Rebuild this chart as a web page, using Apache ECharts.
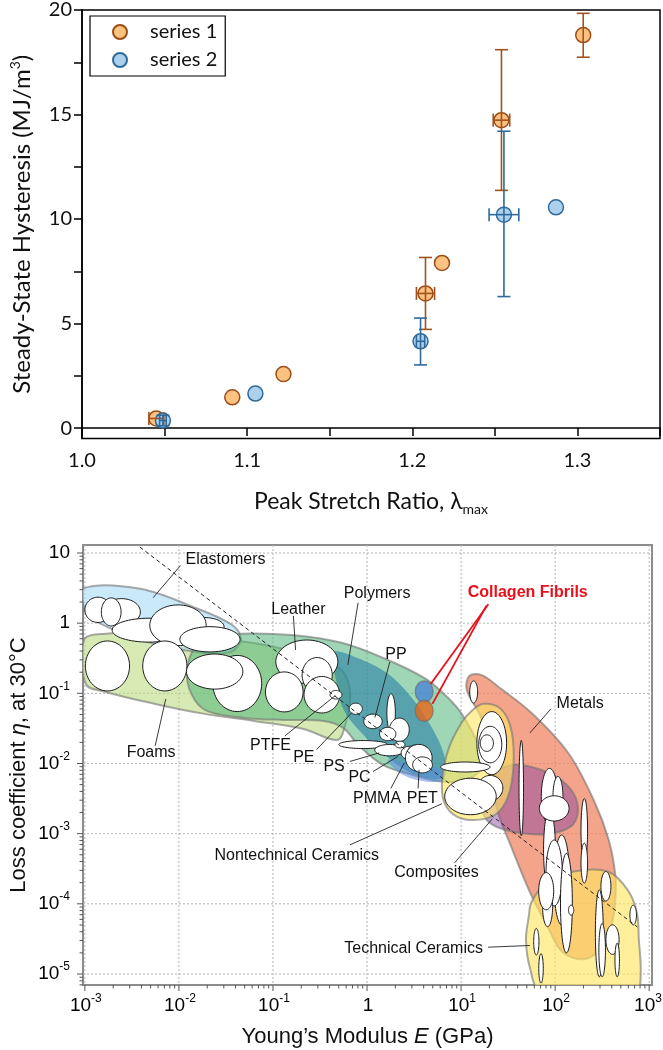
<!DOCTYPE html>
<html><head><meta charset="utf-8">
<script src="https://cdn.jsdelivr.net/npm/echarts@6/dist/echarts.min.js"></script>
<style>html,body{margin:0;padding:0;background:#fff}#c{width:663px;height:1050px}</style>
</head><body><div id="c"></div>
<script>
// ================= TOP CHART DATA =================
const s1X = [1.045, 1.091, 1.122, 1.208, 1.218, 1.254, 1.3035];
const s1Y = [0.46, 1.47, 2.58, 6.44, 7.90, 14.73, 18.80];
const s1XErr = [0.0045, 0, 0, 0.0055, 0, 0.005, 0];
const s1YErrMinus = [0, 0, 0, 1.72, 0, 3.36, 1.06];
const s1YErrPlus = [0, 0, 0, 1.72, 0, 3.37, 1.04];

const s2X = [1.049, 1.105, 1.205, 1.2555, 1.287];
const s2Y = [0.36, 1.65, 4.15, 10.21, 10.56];
const s2XErr = [0.002, 0, 0.0025, 0.009, 0];
const s2YErrMinus = [0.25, 0, 1.13, 3.92, 0];
const s2YErrPlus = [0.25, 0, 1.11, 3.99, 0];

const topYTicks = [0, 2.5, 5, 7.5, 10, 12.5, 15, 17.5, 20];
const topYLabels = [0, 5, 10, 15, 20];

// ================= BOTTOM CHART DATA (log10 space) =================
const xDecades = [-3, -2, -1, 0, 1, 2, 3];
const xTickLabels = ['10^-3', '10^-2', '10^-1', '1', '10^1', '10^2', '10^3'];
const yDecades = [-5, -4, -3, -2, -1, 0, 1];
const yTickLabels = ['10^-5', '10^-4', '10^-3', '10^-2', '10^-1', '1', '10'];
const minorMultipliers = [2, 3, 4, 5, 6, 7, 8, 9];

const elastomersEnv = [[-3.01,0.50],[-2.41,0.49],[-1.83,0.22],[-1.43,-0.03],[-1.34,-0.24],[-1.47,-0.42],[-1.96,-0.38],[-2.49,-0.20],[-2.94,0.07],[-3.01,0.22]];
const foamsEnv = [[-3.01,-0.24],[-2.78,-0.15],[-2.25,-0.14],[-1.73,-0.20],[-1.09,-0.31],[-0.463,-0.524],[-0.253,-0.695],[-0.179,-1.023],[-0.232,-1.45],[-0.316,-1.664],[-0.674,-1.507],[-1.2,-1.393],[-1.726,-1.293],[-2.253,-1.151],[-2.779,-0.98],[-2.99,-0.867]];
const polymersEnv = [[-1.83,-0.35],[-1.61,-0.20],[-1.34,-0.15],[-0.80,-0.17],[-0.27,-0.28],[0.18,-0.50],[0.62,-0.79],[0.85,-1.05],[1.01,-1.30],[1.20,-1.78],[1.22,-2.06],[1.06,-2.23],[0.80,-2.26],[0.48,-2.16],[0.168,-2.02],[-0.095,-1.735],[-0.253,-1.493],[-0.463,-1.393],[-0.884,-1.379],[-1.305,-1.35],[-1.674,-1.265],[-1.832,-1.094],[-1.916,-0.738]];
const tealEnv = [[-0.36,-0.42],[-0.15,-0.47],[0.20,-0.70],[0.48,-1.07],[0.69,-1.49],[0.82,-1.88],[0.83,-2.18],[0.69,-2.22],[0.43,-2.11],[0.20,-1.89],[-0.04,-1.59],[-0.25,-1.23],[-0.33,-0.81]];
const blueTipEnv = [[0.22,-1.95],[0.48,-2.02],[0.80,-2.09],[0.82,-2.23],[0.64,-2.26],[0.38,-2.16]];
const metalsEnv = [[1.09,-0.75],[1.22,-0.74],[1.40,-0.91],[1.75,-1.28],[2.14,-1.85],[2.41,-2.52],[2.57,-3.09],[2.64,-3.59],[2.64,-3.94],[2.60,-4.30],[2.48,-4.64],[2.31,-4.79],[2.08,-4.69],[1.91,-4.30],[1.73,-3.83],[1.51,-3.11],[1.40,-2.73],[1.29,-2.09],[1.22,-1.38],[1.06,-0.95]];
const compositesEnv = [[1.22,-2.52],[1.35,-2.16],[1.54,-2.02],[1.85,-2.09],[2.12,-2.30],[2.24,-2.59],[2.19,-2.87],[1.96,-3.00],[1.69,-3.00],[1.43,-2.93],[1.27,-2.80]];
const nontechEnv = [[1.24,-1.15],[1.41,-1.21],[1.52,-1.45],[1.56,-1.88],[1.52,-2.38],[1.40,-2.69],[1.20,-2.80],[0.96,-2.76],[0.82,-2.55],[0.80,-2.21],[0.87,-1.78],[1.01,-1.41],[1.12,-1.24]];
const techCeramicsEnv = [[1.75,-3.97],[1.93,-3.66],[2.20,-3.54],[2.56,-3.54],[2.77,-3.80],[2.87,-4.13],[2.89,-4.51],[2.91,-4.98],[2.87,-5.25],[2.62,-5.25],[1.85,-5.25],[1.73,-4.90],[1.69,-4.51],[1.72,-4.18]];

// [logE centre, log eta centre, half-width (decades), half-height (decades)]
const materialEllipses = [
 [-2.61,0.16,0.20,0.19],[-2.86,0.19,0.14,0.18],[-2.72,0.16,0.105,0.20],[-2.32,-0.10,0.39,0.17],
 [-1.73,-0.05,0.21,0.13],[-2.01,-0.03,0.30,0.29],[-1.67,-0.23,0.32,0.18],
 [-2.76,-0.61,0.235,0.356],[-2.15,-0.61,0.235,0.356],[-1.38,-0.86,0.26,0.40],[-1.62,-0.69,0.30,0.25],
 [-0.64,-0.55,0.33,0.31],[-0.88,-0.98,0.20,0.285],[-0.53,-0.74,0.16,0.25],[-0.48,-1.02,0.19,0.26],
 [-0.33,-1.02,0.063,0.061],[-0.12,-1.22,0.07,0.08],
 [0.063,-1.40,0.098,0.104],[0.256,-1.28,0.045,0.275],[0.344,-1.52,0.105,0.167],[0.22,-1.58,0.087,0.095],
 [-0.04,-1.73,0.26,0.057],[0.24,-1.81,0.158,0.081],[0.35,-1.73,0.053,0.048],[0.45,-1.85,0.087,0.095],
 [0.505,-1.81,0.066,0.071],[0.55,-1.92,0.142,0.192],[0.59,-2.02,0.105,0.114],
 [1.134,-0.98,0.042,0.157],[1.326,-1.71,0.158,0.45],[1.31,-1.73,0.123,0.26],[1.274,-1.71,0.07,0.118],
 [1.045,-2.05,0.263,0.071],[1.31,-2.35,0.134,0.18],[1.10,-2.47,0.274,0.26],[1.64,-2.35,0.024,0.68],
 [1.94,-2.47,0.087,0.40],[2.03,-2.47,0.053,0.285],[1.94,-3.23,0.063,0.57],[2.07,-3.66,0.084,0.64],
 [1.99,-2.64,0.158,0.18],[2.31,-2.95,0.035,0.45],[1.99,-3.56,0.087,0.47],[1.92,-4.04,0.053,0.285],
 [1.905,-3.82,0.08,0.265],[2.12,-3.99,0.063,0.71],[2.17,-4.09,0.028,0.071],[2.31,-3.42,0.035,0.285],
 [2.47,-4.42,0.042,0.62],[2.50,-4.66,0.035,0.38],[2.54,-3.75,0.053,0.21],[2.61,-4.51,0.07,0.21],
 [2.66,-4.80,0.024,0.24],[2.83,-4.16,0.035,0.14],[1.80,-4.54,0.028,0.19],[1.85,-4.92,0.024,0.21]
];

const collagenE = [4.05, 4.05];       // GPa
const collagenEta = [0.106, 0.0563];

const guideLine = [[-2.416, 1.085], [2.874, -4.33]];

const regionLabels = [
 ['Elastomers', -1.505, 0.90], ['Leather', -0.73, 0.195], ['Polymers', 0.107, 0.42], ['PP', 0.307, -0.453],
 ['Metals', 2.266, -1.151], ['Foams', -2.296, -1.849], ['PTFE', -1.027, -1.745], ['PE', -0.672, -1.913],
 ['PS', -0.35, -2.04], ['PC', -0.08, -2.197], ['PMMA', 0.107, -2.50], ['PET', 0.588, -2.50],
 ['Nontechnical Ceramics', -0.747, -3.316], ['Composites', 0.739, -3.558], ['Technical Ceramics', 0.495, -4.632]
];
const collagenLabel = ['Collagen Fibrils', 1.709, 0.436];
const calloutLines = [
 [-1.984,0.82,-2.274,0.363],[-0.783,0.103,-0.76,-0.382],[-0.095,0.29,-0.204,-0.595],[0.242,-0.553,0.084,-1.345],
 [1.955,-1.222,1.732,-1.564],[-2.253,-1.749,-2.14,-1.08],[-0.874,-1.607,-0.337,-1.033],[-0.537,-1.802,-0.16,-1.274],
 [-0.182,-1.971,0.129,-1.849],[0.063,-2.115,0.329,-1.899],[0.253,-2.356,0.397,-1.991],[0.543,-2.356,0.553,-2.091],
 [-0.182,-3.16,0.797,-2.573],[0.931,-3.416,1.332,-2.789],[1.287,-4.618,1.732,-4.594]
];
const collagenLines = [[1.29,0.27,0.677,-0.866],[1.27,0.25,0.695,-1.151]];

// ================= BUILD =================
const chart = echarts.init(document.getElementById('c'), null, {renderer: 'canvas'});
const topFont = 'Lato';
const botFont = '"Liberation Sans", Arial, sans-serif';

function errRender(color) {
  return function (params, api) {
    const x = api.value(0), y = api.value(1), xe = api.value(2), ym = api.value(3), yp = api.value(4);
    const st = {stroke: color, lineWidth: 1.6, fill: 'none'};
    const ch = [];
    const cap = 6.5;
    if (ym > 0 || yp > 0) {
      const a = api.coord([x, y + yp]), b = api.coord([x, y - ym]);
      ch.push({type: 'line', shape: {x1: a[0], y1: a[1], x2: b[0], y2: b[1]}, style: st});
      ch.push({type: 'line', shape: {x1: a[0] - cap, y1: a[1], x2: a[0] + cap, y2: a[1]}, style: st});
      ch.push({type: 'line', shape: {x1: b[0] - cap, y1: b[1], x2: b[0] + cap, y2: b[1]}, style: st});
    }
    if (xe > 0) {
      const a = api.coord([x - xe, y]), b = api.coord([x + xe, y]);
      ch.push({type: 'line', shape: {x1: a[0], y1: a[1], x2: b[0], y2: b[1]}, style: st});
      ch.push({type: 'line', shape: {x1: a[0], y1: a[1] - cap, x2: a[0], y2: a[1] + cap}, style: st});
      ch.push({type: 'line', shape: {x1: b[0], y1: b[1] - cap, x2: b[0], y2: b[1] + cap}, style: st});
    }
    return {type: 'group', children: ch};
  };
}

const envList = [foamsEnv, elastomersEnv, polymersEnv, tealEnv, blueTipEnv, metalsEnv, compositesEnv, nontechEnv, techCeramicsEnv];
const envFills = ['rgba(190,220,130,0.6)', 'rgba(170,220,245,0.62)', 'rgba(80,180,120,0.55)', 'rgba(30,120,165,0.55)',
  'rgba(90,140,225,0.55)', 'rgba(238,125,90,0.7)', 'rgba(140,70,160,0.48)', 'rgba(255,230,100,0.62)', 'rgba(255,230,100,0.65)'];
const envStroke = [true, true, true, false, false, true, true, true, true];

function supRich(label) {
  const parts = label.split('^');
  if (parts.length === 1) return '{b|' + parts[0] + '}';
  return '{b|' + parts[0] + '}{s|' + parts[1] + '}';
}
const supStyles = {
  b: {fontSize: 19, fontFamily: botFont, color: '#111', lineHeight: 26},
  s: {fontSize: 12, fontFamily: botFont, color: '#111', verticalAlign: 'top', lineHeight: 12}
};

const option = {
  backgroundColor: '#fff',
  animation: false,
  legend: {
    data: ['series 1', 'series 2'], orient: 'vertical', left: 90, top: 16,
    itemWidth: 14, itemHeight: 14, itemGap: 8, padding: [6, 8, 6, 22],
    borderColor: '#000', borderWidth: 1.2, backgroundColor: '#fff', icon: 'circle',
    textStyle: {fontFamily: topFont, fontSize: 20, color: '#111', padding: [0, 0, 0, 18]}
  },
  grid: [
    {left: 73, top: 7, width: 589, height: 431.5, show: true, borderColor: '#000', borderWidth: 1.5, containLabel: false},
    {left: 77, top: 545, width: 575, height: 440, show: true, borderColor: '#8c8c8c', borderWidth: 2, backgroundColor: '#fff', containLabel: false}
  ],
  xAxis: [
    {gridIndex: 0, type: 'value', min: 1.0, max: 1.35, interval: 0.05,
     axisLine: {lineStyle: {color: '#000', width: 1.5}},
     axisTick: {show: true, inside: false, length: 8, lineStyle: {color: '#000', width: 1.5}},
     splitLine: {show: false},
     axisLabel: {margin: 12, fontFamily: topFont, fontSize: 20, color: '#111',
       formatter: v => (Math.round(v * 100) % 10 === 0 ? v.toFixed(1) : '')},
     name: '{a|Peak Stretch Ratio, λ}{sub|max}', nameLocation: 'middle', nameGap: 48,
     nameTextStyle: {rich: {a: {fontFamily: topFont, fontSize: 23, color: '#111'},
                            sub: {fontFamily: topFont, fontSize: 14, color: '#111', verticalAlign: 'bottom', padding: [16, 0, 0, 0]}}}
    },
    {gridIndex: 1, type: 'value', min: -3.02, max: 3.03,
     axisLine: {show: false}, axisTick: {show: false}, axisLabel: {show: false}, splitLine: {show: false},
     name: '{a|Young’s Modulus }{i|E}{a| (GPa)}', nameLocation: 'middle', nameGap: 41,
     nameTextStyle: {rich: {a: {fontFamily: botFont, fontSize: 22, color: '#111'},
                            i: {fontFamily: botFont, fontSize: 22, color: '#111', fontStyle: 'italic'}}}
    }
  ],
  yAxis: [
    {gridIndex: 0, type: 'value', min: -0.5, max: 20,
     axisLine: {show: true, lineStyle: {color: '#000', width: 1.5}},
     axisTick: {show: true, length: 8, customValues: topYTicks, lineStyle: {color: '#000', width: 1.5}},
     axisLabel: {customValues: topYLabels, margin: 10, fontFamily: topFont, fontSize: 20, color: '#111'},
     splitLine: {show: false},
     name: '{a|Steady-State Hysteresis (MJ/m}{sup|3}{a|)}', nameLocation: 'middle', nameGap: 46,
     nameTextStyle: {rich: {a: {fontFamily: topFont, fontSize: 24, color: '#111', lineHeight: 28},
                            sup: {fontFamily: topFont, fontSize: 14, color: '#111', verticalAlign: 'top'}}}
    },
    {gridIndex: 1, type: 'value', min: -5.157, max: 1.114,
     axisLine: {show: false}, axisTick: {show: false}, axisLabel: {show: false}, splitLine: {show: false},
     name: '{a|Loss coefficient }{i|η}{a|, at 30°C}', nameLocation: 'middle', nameGap: 53,
     nameTextStyle: {rich: {a: {fontFamily: botFont, fontSize: 22, color: '#111'},
                            i: {fontFamily: botFont, fontSize: 22, color: '#111', fontStyle: 'italic'}}}
    }
  ],
  series: [
    // ---- top chart ----
    {name: 'series 1', type: 'scatter', xAxisIndex: 0, yAxisIndex: 0, symbol: 'circle', symbolSize: 15, z: 3,
     itemStyle: {color: '#FDC27F', borderColor: '#9C4D17', borderWidth: 1.5, opacity: 1},
     data: s1X.map((x, i) => [x, s1Y[i]])},
    {name: 'series 2', type: 'scatter', xAxisIndex: 0, yAxisIndex: 0, symbol: 'circle', symbolSize: 15, z: 3,
     itemStyle: {color: '#ADD0EC', borderColor: '#2E6A9C', borderWidth: 1.5, opacity: 1},
     data: s2X.map((x, i) => [x, s2Y[i]])},
    {name: 'err1', type: 'custom', xAxisIndex: 0, yAxisIndex: 0, z: 4, renderItem: errRender('#A0531E'),
     encode: {x: 0, y: 1}, data: s1X.map((x, i) => [x, s1Y[i], s1XErr[i], s1YErrMinus[i], s1YErrPlus[i]])},
    {name: 'err2', type: 'custom', xAxisIndex: 0, yAxisIndex: 0, z: 4, renderItem: errRender('#2E6A9C'),
     encode: {x: 0, y: 1}, data: s2X.map((x, i) => [x, s2Y[i], s2XErr[i], s2YErrMinus[i], s2YErrPlus[i]])},

    // ---- bottom chart: grid lines ----
    {name: 'gridlines', type: 'custom', xAxisIndex: 1, yAxisIndex: 1, z: 1, silent: true, data: [[0, 0]],
     renderItem: function (params, api) {
       const cs = params.coordSys; const ch = [];
       const st = {stroke: '#b4b4b4', lineWidth: 1, lineDash: [2, 2]};
       xDecades.forEach(v => { const p = api.coord([v, 0])[0];
         ch.push({type: 'line', shape: {x1: p, y1: cs.y, x2: p, y2: cs.y + cs.height}, style: st}); });
       yDecades.forEach(v => { const p = api.coord([0, v])[1];
         ch.push({type: 'line', shape: {x1: cs.x, y1: p, x2: cs.x + cs.width, y2: p}, style: st}); });
       return {type: 'group', children: ch};
     }},
    // ---- envelopes ----
    {name: 'envelopes', type: 'custom', xAxisIndex: 1, yAxisIndex: 1, z: 2, clip: true, silent: true,
     data: envList.map(() => [0, 0]),
     renderItem: function (params, api) {
       const i = params.dataIndex;
       const pts = envList[i].map(p => api.coord(p));
       return {type: 'polygon', shape: {points: pts, smooth: 0.35},
         style: {fill: envFills[i], stroke: envStroke[i] ? 'rgba(115,115,115,0.6)' : 'none', lineWidth: 2}};
     }},
    // ---- material ellipses ----
    {name: 'ellipses', type: 'custom', xAxisIndex: 1, yAxisIndex: 1, z: 3, clip: true, silent: true,
     encode: {x: 0, y: 1}, data: materialEllipses,
     renderItem: function (params, api) {
       const c = api.coord([api.value(0), api.value(1)]);
       const s = api.size([api.value(2), api.value(3)]);
       const pts = [];
       for (let k = 0; k < 64; k++) { const t = k / 64 * Math.PI * 2; pts.push([c[0] + s[0] * Math.cos(t), c[1] + s[1] * Math.sin(t)]); }
       return {type: 'polygon', shape: {points: pts}, style: {fill: '#fff', stroke: '#1a1a1a', lineWidth: 1}};
     }},
    // ---- guide line ----
    {name: 'guide', type: 'line', xAxisIndex: 1, yAxisIndex: 1, z: 4, symbol: 'none', silent: true,
     lineStyle: {color: '#222', width: 1, type: [4, 3]}, data: guideLine},
    // ---- collagen ----
    {name: 'collagen', type: 'scatter', xAxisIndex: 1, yAxisIndex: 1, z: 6, symbol: 'circle', symbolSize: [18, 21],
     data: collagenE.map((e, i) => ({value: [Math.log10(e), Math.log10(collagenEta[i])],
        itemStyle: {color: i === 0 ? '#4A86D4' : '#E8661A', borderColor: 'rgba(110,110,110,0.8)', borderWidth: 1.5}}))},
    // ---- callout lines & labels ----
    {name: 'callouts', type: 'custom', xAxisIndex: 1, yAxisIndex: 1, z: 5, silent: true,
     data: calloutLines.map(() => [0, 0]),
     renderItem: function (params, api) {
       const l = calloutLines[params.dataIndex];
       const a = api.coord([l[0], l[1]]), b = api.coord([l[2], l[3]]);
       return {type: 'line', shape: {x1: a[0], y1: a[1], x2: b[0], y2: b[1]}, style: {stroke: '#222', lineWidth: 0.9}};
     }},
    {name: 'collagenLines', type: 'custom', xAxisIndex: 1, yAxisIndex: 1, z: 7, silent: true,
     data: collagenLines.map(() => [0, 0]),
     renderItem: function (params, api) {
       const l = collagenLines[params.dataIndex];
       const a = api.coord([l[0], l[1]]), b = api.coord([l[2], l[3]]);
       return {type: 'line', shape: {x1: a[0], y1: a[1], x2: b[0], y2: b[1]}, style: {stroke: '#E8101A', lineWidth: 1.8}};
     }},
    {name: 'labels', type: 'custom', xAxisIndex: 1, yAxisIndex: 1, z: 8, silent: true,
     data: regionLabels.concat([collagenLabel]).map(() => [0, 0]),
     renderItem: function (params, api) {
       const all = regionLabels.concat([collagenLabel]);
       const d = all[params.dataIndex];
       const p = api.coord([d[1], d[2]]);
       const isC = params.dataIndex === all.length - 1;
       return {type: 'text', x: p[0], y: p[1], style: {text: d[0], fill: isC ? '#E8101A' : '#111',
         font: (isC ? 'bold ' : '') + '16px "Liberation Sans", Arial, sans-serif', align: 'center', verticalAlign: 'middle'}};
     }},
    // ---- bottom axes: ticks and labels ----
    {name: 'botAxes', type: 'custom', xAxisIndex: 1, yAxisIndex: 1, z: 9, silent: true, data: [[0, 0]],
     renderItem: function (params, api) {
       const cs = params.coordSys; const ch = [];
       const bottom = cs.y + cs.height, left = cs.x;
       const st = {stroke: '#555', lineWidth: 1};
       const xr = [-3.02, 3.03], yr = [-5.157, 1.114];
       const xT = [], yT = [];
       for (let d = -4; d <= 3; d++) {
         xT.push([d, 1]); minorMultipliers.forEach(m => xT.push([d + Math.log10(m), 0]));
       }
       for (let d = -6; d <= 1; d++) {
         yT.push([d, 1]); minorMultipliers.forEach(m => yT.push([d + Math.log10(m), 0]));
       }
       xT.filter(t => t[0] >= xr[0] && t[0] <= xr[1]).forEach(t => {
         const p = api.coord([t[0], 0])[0];
         ch.push({type: 'line', shape: {x1: p, y1: bottom, x2: p, y2: bottom + (t[1] ? 6 : 3.5)}, style: st});
       });
       yT.filter(t => t[0] >= yr[0] && t[0] <= yr[1]).forEach(t => {
         const p = api.coord([0, t[0]])[1];
         ch.push({type: 'line', shape: {x1: left, y1: p, x2: left - (t[1] ? 6 : 3.5), y2: p}, style: st});
       });
       xDecades.forEach((v, i) => {
         const p = Math.min(api.coord([v, 0])[0] + 1, 648);
         ch.push({type: 'text', x: p, y: bottom + 8, style: {text: supRich(xTickLabels[i]), rich: supStyles,
           align: 'center', verticalAlign: 'top'}});
       });
       yDecades.forEach((v, i) => {
         const p = api.coord([0, v])[1];
         ch.push({type: 'text', x: left - 13, y: p, style: {text: supRich(yTickLabels[i]), rich: supStyles,
           align: 'right', verticalAlign: 'middle'}});
       });
       return {type: 'group', children: ch};
     }}
  ]
};
chart.setOption(option);
</script>
</body></html>
